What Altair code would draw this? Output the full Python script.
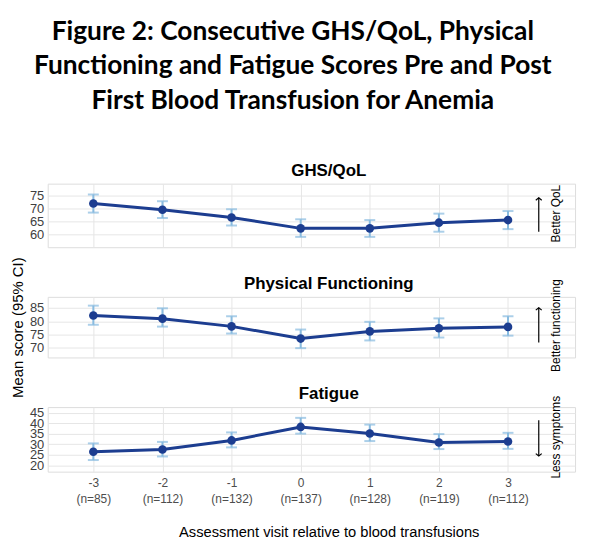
import json
import altair as alt
import pandas as pd

visits = [-3, -2, -1, 0, 1, 2, 3]
tick_text = ["-3", "-2", "-1", "0", "1", "2", "3"]
n_text = ["(n=85)", "(n=112)", "(n=132)", "(n=137)", "(n=128)", "(n=119)", "(n=112)"]

ghs_mean = [71.9, 69.5, 66.5, 62.3, 62.3, 64.5, 65.5]
ghs_lo = [68.4, 66.3, 63.4, 59.0, 59.0, 61.0, 62.0]
ghs_hi = [75.4, 72.8, 69.7, 65.8, 65.5, 68.0, 69.0]

pf_mean = [82.2, 81.0, 78.1, 73.5, 76.2, 77.4, 77.9]
pf_lo = [78.7, 78.0, 75.4, 69.9, 72.8, 73.9, 74.6]
pf_hi = [85.9, 84.9, 81.9, 76.9, 79.8, 81.1, 81.9]

fat_mean = [26.4, 27.5, 31.8, 38.2, 35.1, 30.8, 31.3]
fat_lo = [22.5, 24.2, 28.5, 35.0, 31.5, 27.7, 27.8]
fat_hi = [30.4, 31.1, 35.6, 42.5, 39.3, 34.8, 35.4]

panel_titles = ["GHS/QoL", "Physical Functioning", "Fatigue"]
y_ticks = [[60, 65, 70, 75], [70, 75, 80, 85], [20, 25, 30, 35, 40, 45]]
y_domains = [[55.0, 79.6], [66.4, 89.2], [17.0, 47.6]]
notes = ["Better QoL", "Better functioning", "Less symptoms"]
note_y = [68.0, 78.4, 33.3]
arrow_from = [61.0, 72.0, 41.4]
arrow_to = [74.1, 85.1, 24.4]

NAVY = "#1c3d90"
LIGHT = "#88bbe0"
GRID = "#e6e6e6"
FONT = "Liberation Sans"

x_domain = [-3.66, 3.97]
arrow_x = 3.445
note_x = 3.70

W = 531
heights = [64, 61, 65]

means = [ghs_mean, pf_mean, fat_mean]
los = [ghs_lo, pf_lo, fat_lo]
his = [ghs_hi, pf_hi, fat_hi]

label_expr = "[{t}[datum.value + 3], {n}[datum.value + 3]]".format(
    t=json.dumps(tick_text).replace('"', "'"), n=json.dumps(n_text).replace('"', "'")
)

panels = []
for i in range(3):
    df = pd.DataFrame({"visit": visits, "mean": means[i], "lo": los[i], "hi": his[i]})
    last = i == 2
    if last:
        xaxis = alt.Axis(
            values=visits, labelExpr=label_expr, grid=True, gridColor=GRID,
            domain=False, ticks=False, labelFont=FONT, labelFontSize=12,
            labelColor="#4d4d4d", labelPadding=6, labelLineHeight=16,
            title="Assessment visit relative to blood transfusions",
            titleFont=FONT, titleFontSize=14.8, titleFontWeight="normal",
            titleColor="#000000", titleX=283, titlePadding=20,
        )
    else:
        xaxis = alt.Axis(
            values=visits, grid=True, gridColor=GRID, domain=False,
            ticks=False, labels=False, title=None,
        )
    yaxis_kwargs = dict(
        values=y_ticks[i], grid=True, gridColor=GRID, domain=False, ticks=False,
        labelFont=FONT, labelFontSize=13, labelColor="#404040", labelPadding=4,
        labelOverlap=False, labelBound=False,
    )
    if i == 1:
        yaxis_kwargs.update(
            title="Mean score (95% CI)", titleFont=FONT, titleFontSize=15,
            titleFontWeight="normal", titleColor="#000000", titlePadding=4,
        )
    else:
        yaxis_kwargs.update(title=None)
    yaxis = alt.Axis(**yaxis_kwargs)
    xs = alt.Scale(domain=x_domain, nice=False, zero=False)
    ys = alt.Scale(domain=y_domains[i], nice=False, zero=False)

    def X(field):
        return alt.X(field, scale=xs, axis=xaxis)

    def Y(field):
        return alt.Y(field, scale=ys, axis=yaxis)

    base = alt.Chart(df)
    bars = base.mark_rule(color=LIGHT, strokeWidth=2).encode(
        x=X("visit:Q"), y=Y("lo:Q"), y2="hi:Q",
    )
    caps_lo = base.mark_tick(color=LIGHT, thickness=2, size=11, orient="horizontal").encode(
        x=X("visit:Q"), y=Y("lo:Q")
    )
    caps_hi = base.mark_tick(color=LIGHT, thickness=2, size=11, orient="horizontal").encode(
        x=X("visit:Q"), y=Y("hi:Q")
    )
    line = base.mark_line(color=NAVY, strokeWidth=3).encode(x=X("visit:Q"), y=Y("mean:Q"))
    pts = base.mark_point(color=NAVY, filled=True, opacity=1, size=75).encode(
        x=X("visit:Q"), y=Y("mean:Q")
    )

    adf = pd.DataFrame({"x": [arrow_x], "y1": [arrow_from[i]], "y2": [arrow_to[i]],
                        "nx": [note_x], "ny": [note_y[i]], "note": [notes[i]],
                        "title": [panel_titles[i]]})
    abase = alt.Chart(adf)
    shaft = abase.mark_rule(color="black", strokeWidth=1.2).encode(
        x=X("x:Q"), y=Y("y1:Q"), y2="y2:Q"
    )
    up = arrow_to[i] > arrow_from[i]
    head_path = "M-1,0.8L0,0L1,0.8" if up else "M-1,-0.8L0,0L1,-0.8"
    head = abase.mark_point(shape=head_path, filled=False, color="black",
                            strokeWidth=1.2, size=36, opacity=1).encode(
        x=X("x:Q"), y=Y("y2:Q")
    )
    note = abase.mark_text(angle=270, font=FONT, fontSize=12, color="black",
                           align="center", baseline="middle").encode(
        x=X("nx:Q"), y=Y("ny:Q"), text="note:N"
    )
    ptitle = abase.mark_text(font=FONT, fontSize=17, fontWeight="bold", color="black",
                             align="center", baseline="middle").encode(
        x=alt.value(283), y=alt.value(-13), text="title:N"
    )

    panel = alt.layer(bars, caps_lo, caps_hi, line, pts, shaft, head, note, ptitle).properties(
        width=W, height=heights[i],
    )
    panels.append(panel)

chart = alt.vconcat(*panels, spacing=50, bounds="flush").properties(
    title=alt.TitleParams(
        ["Figure 2: Consecutive GHS/QoL, Physical",
         "Functioning and Fatigue Scores Pre and Post",
         "First Blood Transfusion for Anemia"],
        font="Lato", fontSize=26.5, fontWeight="bold", color="black",
        anchor="middle", lineHeight=35, offset=47,
    ),
    padding={"top": 9, "left": 2, "right": 5, "bottom": 5},
).configure_view(stroke=None).configure(background="white")

chart.save("out.html", embed_options={"renderer": "svg", "actions": False})
